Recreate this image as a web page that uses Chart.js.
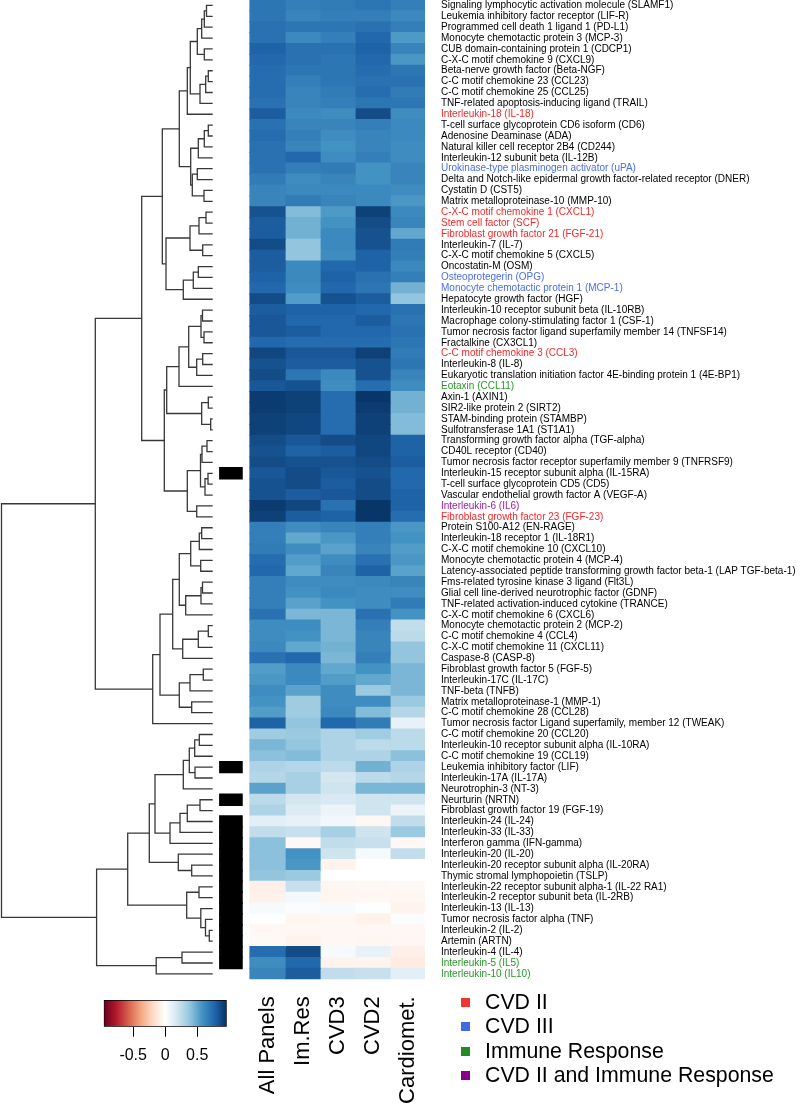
<!DOCTYPE html>
<html>
<head>
<meta charset="utf-8">
<script src="https://cdn.jsdelivr.net/npm/chart.js@4/dist/chart.umd.min.js"></script>
<style>
html, body { margin: 0; background: #fff; }
#wrap { position: relative; width: 800px; height: 1107px; overflow: hidden; font-family: "Liberation Sans", Arial, sans-serif; }
.box { position: absolute; }
.legendItem { position: absolute; left: 461px; height: 24px; line-height: 24px; font-size: 21.3px; color: #000; white-space: nowrap; }
.legendItem span { display: inline-block; width: 9px; height: 9px; margin-right: 15px; vertical-align: 2px; }
</style>
</head>
<body>
<div id="wrap">
	<div class="box" style="left:0;top:0"><canvas id="dendro" width="215" height="980"></canvas></div>
	<div class="box" style="left:0;top:0"><canvas id="heat" width="800" height="1107"></canvas></div>
	<div class="box" style="left:90px;top:990px"><canvas id="key" width="160" height="80"></canvas></div>
	<div id="legend"></div>
</div>
<script>
// row labels, top to bottom
const rowNames = [
	'Signaling lymphocytic activation molecule (SLAMF1)', 'Leukemia inhibitory factor receptor (LIF-R)', 'Programmed cell death 1 ligand 1 (PD-L1)',
	'Monocyte chemotactic protein 3 (MCP-3)', 'CUB domain-containing protein 1 (CDCP1)', 'C-X-C motif chemokine 9 (CXCL9)',
	'Beta-nerve growth factor (Beta-NGF)', 'C-C motif chemokine 23 (CCL23)', 'C-C motif chemokine 25 (CCL25)',
	'TNF-related apoptosis-inducing ligand (TRAIL)', 'Interleukin-18 (IL-18)', 'T-cell surface glycoprotein CD6 isoform (CD6)',
	'Adenosine Deaminase (ADA)', 'Natural killer cell receptor 2B4 (CD244)', 'Interleukin-12 subunit beta (IL-12B)',
	'Urokinase-type plasminogen activator (uPA)', 'Delta and Notch-like epidermal growth factor-related receptor (DNER)', 'Cystatin D (CST5)',
	'Matrix metalloproteinase-10 (MMP-10)', 'C-X-C motif chemokine 1 (CXCL1)', 'Stem cell factor (SCF)',
	'Fibroblast growth factor 21 (FGF-21)', 'Interleukin-7 (IL-7)', 'C-X-C motif chemokine 5 (CXCL5)',
	'Oncostatin-M (OSM)', 'Osteoprotegerin (OPG)', 'Monocyte chemotactic protein 1 (MCP-1)',
	'Hepatocyte growth factor (HGF)', 'Interleukin-10 receptor subunit beta (IL-10RB)', 'Macrophage colony-stimulating factor 1 (CSF-1)',
	'Tumor necrosis factor ligand superfamily member 14 (TNFSF14)', 'Fractalkine (CX3CL1)', 'C-C motif chemokine 3 (CCL3)',
	'Interleukin-8 (IL-8)', 'Eukaryotic translation initiation factor 4E-binding protein 1 (4E-BP1)', 'Eotaxin (CCL11)',
	'Axin-1 (AXIN1)', 'SIR2-like protein 2 (SIRT2)', 'STAM-binding protein (STAMBP)',
	'Sulfotransferase 1A1 (ST1A1)', 'Transforming growth factor alpha (TGF-alpha)', 'CD40L receptor (CD40)',
	'Tumor necrosis factor receptor superfamily member 9 (TNFRSF9)', 'Interleukin-15 receptor subunit alpha (IL-15RA)', 'T-cell surface glycoprotein CD5 (CD5)',
	'Vascular endothelial growth factor A (VEGF-A)', 'Interleukin-6 (IL6)', 'Fibroblast growth factor 23 (FGF-23)',
	'Protein S100-A12 (EN-RAGE)', 'Interleukin-18 receptor 1 (IL-18R1)', 'C-X-C motif chemokine 10 (CXCL10)',
	'Monocyte chemotactic protein 4 (MCP-4)', 'Latency-associated peptide transforming growth factor beta-1 (LAP TGF-beta-1)', 'Fms-related tyrosine kinase 3 ligand (Flt3L)',
	'Glial cell line-derived neurotrophic factor (GDNF)', 'TNF-related activation-induced cytokine (TRANCE)', 'C-X-C motif chemokine 6 (CXCL6)',
	'Monocyte chemotactic protein 2 (MCP-2)', 'C-C motif chemokine 4 (CCL4)', 'C-X-C motif chemokine 11 (CXCL11)',
	'Caspase-8 (CASP-8)', 'Fibroblast growth factor 5 (FGF-5)', 'Interleukin-17C (IL-17C)',
	'TNF-beta (TNFB)', 'Matrix metalloproteinase-1 (MMP-1)', 'C-C motif chemokine 28 (CCL28)',
	'Tumor necrosis factor Ligand superfamily, member 12 (TWEAK)', 'C-C motif chemokine 20 (CCL20)', 'Interleukin-10 receptor subunit alpha (IL-10RA)',
	'C-C motif chemokine 19 (CCL19)', 'Leukemia inhibitory factor (LIF)', 'Interleukin-17A (IL-17A)',
	'Neurotrophin-3 (NT-3)', 'Neurturin (NRTN)', 'Fibroblast growth factor 19 (FGF-19)',
	'Interleukin-24 (IL-24)', 'Interleukin-33 (IL-33)', 'Interferon gamma (IFN-gamma)',
	'Interleukin-20 (IL-20)', 'Interleukin-20 receptor subunit alpha (IL-20RA)', 'Thymic stromal lymphopoietin (TSLP)',
	'Interleukin-22 receptor subunit alpha-1 (IL-22 RA1)', 'Interleukin-2 receptor subunit beta (IL-2RB)', 'Interleukin-13 (IL-13)',
	'Tumor necrosis factor alpha (TNF)', 'Interleukin-2 (IL-2)', 'Artemin (ARTN)',
	'Interleukin-4 (IL-4)', 'Interleukin-5 (IL5)', 'Interleukin-10 (IL10)'
];

// 0 none, 1 CVD II, 2 CVD III, 3 Immune Response, 4 CVD II and Immune Response
const rowGroup = [
	0, 0, 0, 0, 0, 0, 0, 0, 0, 0, 1, 0, 0, 0, 0, 2, 0, 0, 0, 1,
	1, 1, 0, 0, 0, 2, 2, 0, 0, 0, 0, 0, 1, 0, 0, 3, 0, 0, 0, 0,
	0, 0, 0, 0, 0, 0, 4, 1, 0, 0, 0, 0, 0, 0, 0, 0, 0, 0, 0, 0,
	0, 0, 0, 0, 0, 0, 0, 0, 0, 0, 0, 0, 0, 0, 0, 0, 0, 0, 0, 0,
	0, 0, 0, 0, 0, 0, 0, 0, 3, 3
];

// black side bar
const flagged = [
	0, 0, 0, 0, 0, 0, 0, 0, 0, 0, 0, 0, 0, 0, 0, 0, 0, 0, 0, 0,
	0, 0, 0, 0, 0, 0, 0, 0, 0, 0, 0, 0, 0, 0, 0, 0, 0, 0, 0, 0,
	0, 0, 0, 1, 0, 0, 0, 0, 0, 0, 0, 0, 0, 0, 0, 0, 0, 0, 0, 0,
	0, 0, 0, 0, 0, 0, 0, 0, 0, 0, 1, 0, 0, 1, 0, 1, 1, 1, 1, 1,
	1, 1, 1, 1, 1, 1, 1, 1, 1, 0
];

const colNames = ['All Panels', 'Im.Res', 'CVD3', 'CVD2', 'Cardiomet.'];

const allPanels = [
	0.70, 0.70, 0.72, 0.72, 0.78, 0.76, 0.74, 0.74, 0.74, 0.72, 0.80, 0.72, 0.74, 0.72, 0.72, 0.72, 0.68, 0.64, 0.64, 0.84,
	0.80, 0.80, 0.86, 0.80, 0.80, 0.78, 0.76, 0.86, 0.80, 0.82, 0.82, 0.76, 0.88, 0.84, 0.86, 0.82, 0.92, 0.92, 0.90, 0.90,
	0.86, 0.84, 0.86, 0.82, 0.84, 0.84, 0.92, 0.90, 0.66, 0.66, 0.68, 0.74, 0.76, 0.66, 0.66, 0.66, 0.72, 0.60, 0.60, 0.62,
	0.72, 0.54, 0.56, 0.60, 0.58, 0.54, 0.78, 0.34, 0.44, 0.40, 0.30, 0.28, 0.52, 0.26, 0.30, 0.12, 0.24, 0.40, 0.40, 0.40,
	0.38, -0.08, -0.07, 0.04, 0.01, -0.04, -0.03, 0.74, 0.60, 0.64
];
const imRes = [
	0.66, 0.64, 0.70, 0.62, 0.72, 0.72, 0.70, 0.66, 0.64, 0.64, 0.62, 0.64, 0.66, 0.64, 0.76, 0.66, 0.60, 0.62, 0.68, 0.42,
	0.46, 0.46, 0.38, 0.38, 0.62, 0.62, 0.60, 0.54, 0.78, 0.76, 0.80, 0.74, 0.82, 0.80, 0.70, 0.84, 0.90, 0.90, 0.88, 0.88,
	0.82, 0.78, 0.84, 0.86, 0.86, 0.80, 0.88, 0.80, 0.60, 0.50, 0.60, 0.54, 0.50, 0.60, 0.58, 0.52, 0.44, 0.60, 0.58, 0.50,
	0.76, 0.62, 0.62, 0.52, 0.34, 0.34, 0.38, 0.36, 0.38, 0.42, 0.28, 0.32, 0.32, 0.18, 0.14, 0.10, 0.22, -0.04, 0.58, 0.56,
	0.36, 0.22, 0.05, 0.02, -0.05, -0.04, -0.06, 0.86, 0.76, 0.80
];
const cvd3 = [
	0.68, 0.66, 0.70, 0.66, 0.72, 0.70, 0.70, 0.70, 0.68, 0.66, 0.60, 0.64, 0.60, 0.58, 0.60, 0.68, 0.64, 0.62, 0.64, 0.55,
	0.58, 0.62, 0.62, 0.60, 0.76, 0.78, 0.76, 0.84, 0.78, 0.76, 0.76, 0.74, 0.82, 0.80, 0.62, 0.60, 0.74, 0.74, 0.74, 0.74,
	0.86, 0.80, 0.84, 0.82, 0.80, 0.82, 0.72, 0.78, 0.64, 0.56, 0.52, 0.60, 0.64, 0.60, 0.62, 0.58, 0.44, 0.44, 0.44, 0.46,
	0.44, 0.50, 0.54, 0.60, 0.60, 0.62, 0.76, 0.30, 0.30, 0.30, 0.26, 0.18, 0.20, 0.16, 0.08, 0.06, 0.32, 0.24, 0.20, -0.06,
	0.00, -0.05, -0.05, 0.03, -0.04, -0.04, -0.04, 0.04, -0.06, 0.24
];
const cvd2 = [
	0.70, 0.66, 0.72, 0.76, 0.78, 0.76, 0.74, 0.72, 0.74, 0.70, 0.86, 0.66, 0.64, 0.64, 0.66, 0.58, 0.58, 0.62, 0.62, 0.90,
	0.86, 0.84, 0.84, 0.78, 0.78, 0.72, 0.70, 0.80, 0.76, 0.80, 0.76, 0.74, 0.90, 0.84, 0.84, 0.74, 0.94, 0.92, 0.90, 0.90,
	0.88, 0.88, 0.86, 0.84, 0.86, 0.86, 0.94, 0.94, 0.66, 0.66, 0.64, 0.72, 0.78, 0.62, 0.60, 0.60, 0.72, 0.66, 0.64, 0.64,
	0.66, 0.58, 0.50, 0.36, 0.60, 0.42, 0.68, 0.34, 0.26, 0.30, 0.46, 0.26, 0.44, 0.20, 0.20, -0.04, 0.20, 0.22, 0.04, 0.00,
	0.00, -0.04, -0.04, 0.01, -0.07, -0.04, -0.05, 0.10, -0.06, 0.22
];
const cardiomet = [
	0.66, 0.62, 0.66, 0.55, 0.64, 0.56, 0.70, 0.72, 0.68, 0.70, 0.60, 0.62, 0.62, 0.60, 0.60, 0.64, 0.64, 0.60, 0.56, 0.62,
	0.64, 0.50, 0.68, 0.66, 0.62, 0.66, 0.46, 0.38, 0.72, 0.70, 0.72, 0.70, 0.68, 0.70, 0.64, 0.60, 0.46, 0.46, 0.42, 0.42,
	0.78, 0.78, 0.80, 0.76, 0.76, 0.78, 0.78, 0.74, 0.56, 0.58, 0.54, 0.56, 0.52, 0.64, 0.60, 0.68, 0.58, 0.24, 0.26, 0.38,
	0.38, 0.44, 0.44, 0.44, 0.36, 0.28, 0.10, 0.26, 0.26, 0.40, 0.30, 0.28, 0.44, 0.20, 0.08, 0.24, 0.36, -0.04, 0.24, 0.00,
	0.00, -0.03, -0.05, -0.06, 0.02, -0.04, -0.04, -0.08, -0.10, 0.12
];

// row dendrogram, hclust style: negative = row number, positive = earlier merge number
const mergeLeft = [
	-1, 1, 2, -5, 3, -7, 6, 7, 5, 9, -12, 11, 12, -16, -18, 14, 13, 10, -20, 19,
	-23, 20, -25, 23, 24, 22, 18, -29, -31, 28, -33, 31, 30, 33, -37, -39, 35, 34, -41, 39,
	-44, 41, 40, -47, 43, 38, 27, -49, 48, -52, 49, -54, 52, 53, 51, -58, 56, 57, 55, -62,
	60, -65, 61, 59, 64, 47, -68, 67, -71, 68, 70, -74, 72, 73, 74, 71, -80, -79, 76, -82,
	-86, -85, -84, 80, 79, -88, 86, 85, 66
];
const mergeRight = [
	-2, -3, -4, -6, 4, -8, -9, -10, 8, -11, -13, -14, -15, -17, -19, 15, 16, 17, -21, -22,
	-24, 21, -26, -27, -28, 25, 26, -30, -32, 29, -34, -35, 32, -36, -38, -40, 36, 37, -42, -43,
	-45, -46, 42, -48, 44, 45, 46, -50, -51, -53, 50, -55, -56, -57, 54, -59, -60, -61, 58, -63,
	-64, -66, 62, 63, -67, 65, -69, -70, -72, 69, -73, -75, -76, -77, -78, 75, -81, 77, 78, -83,
	-87, 81, 82, 83, 84, -89, -90, 87, 88
];
const mergeHeight = [
	6.2, 8.4, 11.0, 8.4, 15.4, 4.4, 7.0, 12.7, 22.4, 25.4, 4.4, 8.4, 14.4, 15.4, 8.7, 20.4, 22.0, 33.4, 6.7, 13.7,
	10.0, 22.7, 14.4, 19.4, 29.4, 46.7, 50.4, 10.2, 8.7, 11.7, 10.0, 16.0, 24.0, 33.7, 4.4, 2.0, 11.0, 46.0, 5.7, 10.7,
	4.7, 7.7, 12.2, 16.0, 25.4, 48.4, 71.0, 11.0, 13.4, 12.0, 22.0, 10.2, 11.7, 27.0, 33.4, 4.4, 14.4, 30.0, 40.0, 9.4,
	22.7, 21.0, 33.4, 52.7, 60.0, 117.4, 13.4, 18.0, 17.7, 23.4, 29.4, 12.7, 25.4, 32.7, 42.7, 57.7, 21.0, 34.4, 63.4, 13.7,
	3.4, 7.2, 11.9, 26.0, 85.0, 30.7, 56.5, 116.1, 211.2
];

const groupNames = ['CVD II', 'CVD III', 'Immune Response', 'CVD II and Immune Response'];
const keyTicks = [-0.5, 0, 0.5];

// styles
const labelColors = ['#000000', '#f02828', '#4a6ee6', '#2a962a', '#a020a0'];
const legendColors = ['#f03434', '#4169e1', '#228b22', '#8b008b'];
const rdbu = ['#67001F', '#B2182B', '#D6604D', '#F4A582', '#FDDBC7', '#FFFFFF', '#D1E5F0', '#92C5DE', '#4393C3', '#2166AC', '#053061'];
const colorMax = 0.96;

Chart.defaults.font.family = "'Liberation Sans', Arial, sans-serif";
Chart.defaults.color = '#000';
Chart.defaults.animation = false;

function hexToRgb (hex) {
	return [1, 3, 5].map(i => parseInt(hex.slice(i, i + 2), 16));
}

function valueColor (v) {
	let t = (Math.max(-colorMax, Math.min(colorMax, v)) + colorMax) / (2 * colorMax) * (rdbu.length - 1);
	let i = Math.min(Math.floor(t), rdbu.length - 2);
	let f = t - i;
	let a = hexToRgb(rdbu[i]), b = hexToRgb(rdbu[i + 1]);
	let c = a.map((x, k) => Math.round(x + (b[k] - x) * f));
	return `rgb(${c[0]},${c[1]},${c[2]})`;
}

// dendrogram: one 3-segment line per merge
let nodeY = [];
let child = (id) => id < 0 ? { y: -id, h: 0 } : { y: nodeY[id - 1], h: mergeHeight[id - 1] };
let dendroSets = mergeLeft.map((a, k) => {
	let L = child(a), R = child(mergeRight[k]), h = mergeHeight[k];
	nodeY[k] = (L.y + R.y) / 2;
	return {
		data: [{ x: L.h, y: L.y }, { x: h, y: L.y }, { x: h, y: R.y }, { x: R.h, y: R.y }],
		showLine: true,
		borderColor: '#383838',
		borderWidth: 1.3,
		pointRadius: 0,
		clip: false,
	};
});

new Chart(document.getElementById('dendro'), {
	type: 'scatter',
	data: { datasets: dendroSets },
	options: {
		responsive: false,
		layout: { padding: { left: 1.5, right: 2.3, top: 0, bottom: 0.7 } },
		plugins: { legend: { display: false }, tooltip: { enabled: false } },
		scales: {
			x: { type: 'linear', min: 0, max: mergeHeight[mergeHeight.length - 1], reverse: true, display: false },
			y: { type: 'linear', min: 0.5, max: rowNames.length + 0.5, reverse: true, display: false },
		},
	},
});

// heatmap
let colSeries = [allPanels, imRes, cvd3, cvd2, cardiomet];
let heatSets = colSeries.map((vals, c) => ({
	data: vals.map(() => [c, c + 1]),
	backgroundColor: vals.map(valueColor),
	borderWidth: 0,
	inflateAmount: 0.6,
	grouped: false,
	barPercentage: 1,
	categoryPercentage: 1,
}));
heatSets.push({
	data: flagged.map(f => f ? [-0.86, -0.23] : null),
	backgroundColor: '#000',
	borderWidth: 0,
	inflateAmount: 0.8,
	grouped: false,
	barPercentage: 1,
	categoryPercentage: 1,
});

new Chart(document.getElementById('heat'), {
	type: 'bar',
	data: { labels: rowNames, datasets: heatSets },
	options: {
		indexAxis: 'y',
		responsive: false,
		layout: { padding: { left: 218.5, right: 0, top: 0, bottom: 0 } },
		plugins: { legend: { display: false }, tooltip: { enabled: false } },
		scales: {
			x: { type: 'linear', min: -0.9, max: 5, display: false },
			y: {
				type: 'category',
				position: 'right',
				grid: { display: false, drawTicks: false },
				border: { display: false },
				ticks: {
					autoSkip: false,
					padding: 16,
					font: { size: 10 },
					color: (ctx) => labelColors[rowGroup[ctx.index]],
				},
				afterFit: (s) => {
					s.width = 375;
					s.paddingTop = 0;
					s.paddingBottom = 0;
				},
			},
			x2: {
				type: 'linear',
				min: -0.9,
				max: 5,
				position: 'bottom',
				grid: { display: false, drawTicks: false },
				border: { display: false },
				afterBuildTicks: (s) => { s.ticks = colNames.map((_, i) => ({ value: i + 0.5 })); },
				ticks: {
					autoSkip: false,
					minRotation: 90,
					maxRotation: 90,
					padding: 17,
					font: { size: 22 },
					callback: (v, i) => colNames[i],
				},
				afterFit: (s) => {
					s.height = 127.7;
					s.paddingLeft = 0;
					s.paddingRight = 0;
				},
			},
		},
	},
});

// colour key
new Chart(document.getElementById('key'), {
	type: 'bar',
	data: {
		labels: ['key'],
		datasets: [{
			data: [[-colorMax, colorMax]],
			backgroundColor: (ctx) => {
				let { chart } = ctx;
				if (!chart.chartArea) { return null; }
				let xs = chart.scales.x;
				let g = chart.ctx.createLinearGradient(xs.getPixelForValue(-colorMax), 0, xs.getPixelForValue(colorMax), 0);
				rdbu.forEach((c, i) => g.addColorStop(i / (rdbu.length - 1), c));
				return g;
			},
			borderColor: '#000',
			borderWidth: 1,
			borderSkipped: false,
			barPercentage: 1,
			categoryPercentage: 1,
		}],
	},
	options: {
		indexAxis: 'y',
		responsive: false,
		layout: { padding: { left: 13.7, right: 23.3, top: 10, bottom: 0 } },
		plugins: { legend: { display: false }, tooltip: { enabled: false } },
		scales: {
			x: {
				type: 'linear',
				min: -colorMax,
				max: colorMax,
				position: 'bottom',
				afterBuildTicks: (s) => { s.ticks = keyTicks.map(v => ({ value: v })); },
				grid: { drawOnChartArea: false, drawTicks: true, tickLength: 10, color: '#000', lineWidth: 1 },
				border: { display: false },
				ticks: { padding: 9, font: { size: 16 }, callback: (v) => String(v) },
				afterFit: (s) => { s.height = 43.3; },
			},
			y: { display: false },
		},
	},
});

// group legend
let legendEl = document.getElementById('legend');
groupNames.forEach((name, i) => {
	let item = document.createElement('div');
	item.className = 'legendItem';
	item.style.top = (989.5 + i * 24.5) + 'px';
	item.innerHTML = `<span style="background:${legendColors[i]}"></span>${name}`;
	legendEl.appendChild(item);
});
</script>
</body>
</html>
